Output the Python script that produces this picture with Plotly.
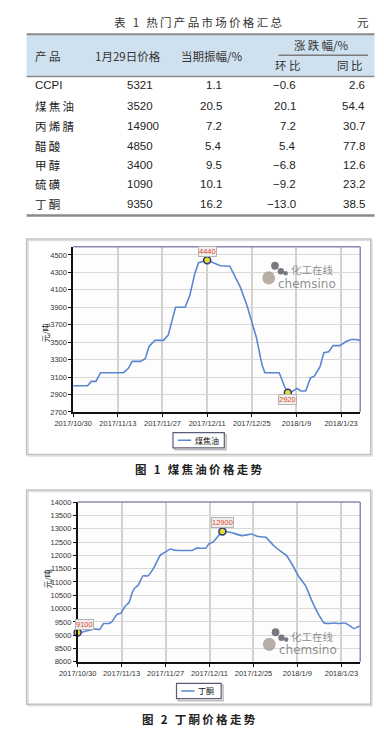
import plotly.graph_objects as go

W, H = 384, 735

# ---------------- Table data ----------------
table_title = "表 1 热门产品市场价格汇总"
table_unit = "元"
products = ["CCPI", "煤焦油", "丙烯腈", "醋酸", "甲醇", "硫磺", "丁酮"]
price_jan29 = [5321, 3520, 14900, 4850, 3400, 1090, 9350]
amplitude = [1.1, 20.5, 7.2, 5.4, 9.5, 10.1, 16.2]
change_mom = [-0.6, 20.1, 7.2, 5.4, -6.8, -9.2, -13.0]
change_yoy = [2.6, 54.4, 30.7, 77.8, 12.6, 23.2, 38.5]

# ---------------- Chart data ----------------
tick_days = [0, 14, 28, 42, 56, 70, 84]
tick_labels = ["2017/10/30", "2017/11/13", "2017/11/27", "2017/12/11",
               "2017/12/25", "2018/1/9", "2018/1/23"]

# 煤焦油 (days after 2017/10/30, 元/吨)
coal_tar_days = [0, 4.5, 5.7, 7.1, 8.6, 15.8, 17.3, 18.5, 21.1, 22.6, 23.8, 25.6,
                 28.3, 29.8, 31, 32.1, 35.1, 36.6, 38.1, 39.3, 42, 44, 46.1, 49.1,
                 50.9, 52.4, 54.5, 56, 57.4, 59.2, 60.1, 64.6, 66.4, 67.3, 68.5,
                 70.2, 71.4, 72.9, 74.4, 75.6, 77.4, 78.6, 80.1, 81.5, 83.6, 85.7,
                 87.2, 88.7, 89.9]
coal_tar_price = [3000, 3000, 3050, 3050, 3150, 3150, 3200, 3280, 3280, 3310, 3450, 3520,
                  3520, 3580, 3750, 3900, 3900, 4040, 4280, 4410, 4440, 4410, 4375, 4370,
                  4240, 4130, 3920, 3720, 3560, 3240, 3150, 3150, 2980, 2920, 2930,
                  2970, 2940, 2940, 3090, 3110, 3220, 3380, 3390, 3460, 3460, 3510,
                  3530, 3530, 3520]
coal_tar_yticks = [2700, 2900, 3100, 3300, 3500, 3700, 3900, 4100, 4300, 4500]

# 丁酮
mek_days = [0, 1.5, 5, 6, 7, 8.3, 10, 11, 12.6, 13.8, 15.1, 16.4, 17.3, 18.1, 19.4,
            20.8, 22.4, 24.2, 26.4, 27.9, 29.5, 31.2, 36.7, 37.8, 40.8, 41.8, 43.3,
            46.1, 48.8, 52.4, 55.4, 57.4, 59.9, 62.4, 65, 66.5, 68.5, 70.5, 72.5,
            74.5, 76.5, 78.5, 80.1, 81.6, 83.1, 85.1, 86.1, 88.1, 89.8]
mek_price = [9100, 9120, 9230, 9230, 9210, 9440, 9440, 9520, 9790, 9830, 10080, 10240,
             10570, 10760, 10900, 11230, 11230, 11520, 12020, 12120, 12240, 12190, 12190,
             12270, 12270, 12430, 12520, 12900, 12860, 12740, 12800, 12710, 12680, 12370,
             12120, 12000, 11620, 11190, 10880, 10320, 9830, 9460, 9440, 9460, 9440, 9460,
             9400, 9250, 9350]
mek_yticks = list(range(8000, 14001, 500))

LINE_BLUE = "#5b87d2"
FONT_LAT = "Liberation Sans, Arial, Noto Sans CJK SC"
FONT_CJK = "Noto Sans CJK SC, Liberation Sans"


def X(px):
    return px / W


def Y(py):
    return 1 - py / H


def spaced(s, sep="\u2009"):
    return sep.join(s)


shapes = []
annotations = []


def text(px, py, s, size=11.5, color="#222", anchor="center", family=FONT_CJK, **kw):
    annotations.append(dict(x=X(px), y=Y(py), xref="paper", yref="paper", text=s,
                            showarrow=False, xanchor=anchor, yanchor="middle",
                            font=dict(size=size, color=color, family=family), **kw))


def hline(x0, x1, py, color="#888", width=1.5):
    shapes.append(dict(type="line", xref="paper", yref="paper", x0=X(x0), x1=X(x1),
                       y0=Y(py), y1=Y(py), line=dict(color=color, width=width)))


def rect(x0, y0, x1, y1, line="#c4c4c4", width=1.5, fill="rgba(0,0,0,0)", layer="below"):
    shapes.append(dict(type="rect", xref="paper", yref="paper", x0=X(x0), x1=X(x1),
                       y0=Y(y1), y1=Y(y0), line=dict(color=line, width=width),
                       fillcolor=fill, layer=layer))


def circle(cx, cy, r, color):
    shapes.append(dict(type="circle", xref="paper", yref="paper", x0=X(cx - r), x1=X(cx + r),
                       y0=Y(cy + r), y1=Y(cy - r), line=dict(width=0), fillcolor=color,
                       layer="above"))


def fmt(v):
    s = f"{abs(v):.1f}"
    return ("−" + s) if v < 0 else s


# ---------------- Table ----------------
text(188, 18, spaced(table_title), size=11.5, color="#333")
text(362, 18, table_unit, size=11.5, color="#333")
rect(8, 30.5, 374, 73.5, line="rgba(0,0,0,0)", width=0, fill="#cfe1ef")
hline(8, 374, 30.5, "#8a8a8a", 2)
hline(8, 374, 73.5, "#8a8a8a", 1.5)
hline(273, 367, 52, "#7a7a7a", 1.5)
text(31, 53, "产 品", color="#333")
text(115, 53, "1月29日价格", color="#333")
text(203, 53, "当期振幅/%", color="#333")
text(318, 42, spaced("涨跌幅") + "/%", color="#333")
text(283, 62, "环 比", color="#333")
text(348, 62, "同 比", color="#333")

row_y = [82, 103.6, 123.3, 143.3, 162.7, 182.7, 202.4]
for i, name in enumerate(products):
    ry = row_y[i]
    if name.isascii():
        text(15, ry, name, anchor="left", family=FONT_LAT)
    else:
        text(15, ry, spaced(name), anchor="left", family=FONT_CJK)
    text(112, ry, str(price_jan29[i]), anchor="left", family=FONT_LAT)
    text(216, ry, fmt(amplitude[i]), anchor="right", family=FONT_LAT)
    text(294, ry, fmt(change_mom[i]), anchor="right", family=FONT_LAT)
    text(366, ry, fmt(change_yoy[i]), anchor="right", family=FONT_LAT)
hline(8, 374, 214, "#8a8a8a", 2.5)

# ---------------- Chart frames ----------------
charts = [
    dict(box=(8, 238, 370, 456), plot=(57, 245.7, 359, 413), ytitle=(28, 333),
         legend=(162, 434, 216, 449.3), legend_name="煤焦油", caption=(189.5, 471),
         caption_text="图 1 煤焦油价格走势", wm=(0, 0)),
    dict(box=(8, 492, 370, 709), plot=(61.7, 504.3, 359, 666), ytitle=(30, 582),
         legend=(165.7, 687.7, 212.7, 703.3), legend_name="丁酮", caption=(189, 724),
         caption_text="图 2 丁酮价格走势", wm=(0.6, 371)),
]

for c in charts:
    bx0, by0, bx1, by1 = c["box"]
    rect(bx0 + 1.5, by0 + 1.5, bx1 + 1.5, by1 + 1.5, line="#dedede", width=1.5)
    rect(bx0, by0, bx1, by1, line="#c2c2c2", width=1.5)
    px0, py0, px1, py1 = c["plot"]
    shapes.append(dict(type="line", xref="paper", yref="paper", x0=X(px0), x1=X(px1),
                       y0=Y(py0), y1=Y(py0), line=dict(color="#8a8aae", width=1.5), layer="above"))
    shapes.append(dict(type="line", xref="paper", yref="paper", x0=X(px1), x1=X(px1),
                       y0=Y(py0), y1=Y(py1), line=dict(color="#8a8aae", width=1.5), layer="above"))
    tx, ty = c["ytitle"]
    text(tx, ty, "元/吨", size=8, color="#222", textangle=-90)
    lx0, ly0, lx1, ly1 = c["legend"]
    rect(lx0 + 2, ly0 + 2, lx1 + 2, ly1 + 2, line="#bdbdbd", width=1.5, layer="above")
    rect(lx0, ly0, lx1, ly1, line="#5c5c78", width=1.2, fill="white", layer="above")
    ly = (ly0 + ly1) / 2
    shapes.append(dict(type="line", xref="paper", yref="paper", x0=X(lx0 + 5), x1=X(lx0 + 19),
                       y0=Y(ly), y1=Y(ly), line=dict(color=LINE_BLUE, width=1.5), layer="above"))
    text(lx0 + 21, ly, c["legend_name"], size=8, color="#111", anchor="left")
    cx, cy = c["caption"]
    text(cx, cy, "<b>" + spaced(c["caption_text"]) + "</b>", size=11.5, color="#222")
    # watermark
    dx, dy = c["wm"]
    circle(262.7 + dx, 277.3 + dy, 6.7, "rgba(170,160,150,0.85)")
    circle(269.3 + dx, 265 + dy, 4, "rgba(95,95,105,0.85)")
    circle(275.5 + dx, 270.5 + dy, 3.3, "rgba(95,95,105,0.85)")
    circle(280.5 + dx, 272.5 + dy, 2.3, "rgba(95,95,105,0.85)")
    text(308.5 + dx, 269 + dy, "化工在线", size=10.5, color="rgba(130,130,130,0.9)",
         borderpad=0)
    text(303.5 + dx, 283 + dy, "chemsino", size=12, color="rgba(130,130,130,0.9)",
         family="DejaVu Sans, Liberation Sans", borderpad=0)

# ---------------- Traces ----------------
fig = go.Figure()
fig.add_trace(go.Scatter(x=coal_tar_days, y=coal_tar_price, mode="lines",
                         line=dict(color=LINE_BLUE, width=1.6), name="煤焦油",
                         xaxis="x", yaxis="y", showlegend=False))
fig.add_trace(go.Scatter(x=mek_days, y=mek_price, mode="lines",
                         line=dict(color=LINE_BLUE, width=1.6, shape="spline", smoothing=0.4),
                         name="丁酮", xaxis="x2", yaxis="y2", showlegend=False))

i_max1 = coal_tar_price.index(max(coal_tar_price))
i_min1 = coal_tar_price.index(min(coal_tar_price))
i_max2 = mek_price.index(max(mek_price))
i_first2 = 0
marker_style = dict(size=7, color="#e6dc2a", line=dict(color="#2a3480", width=1.5))
fig.add_trace(go.Scatter(x=[coal_tar_days[i_max1], coal_tar_days[i_min1]],
                         y=[coal_tar_price[i_max1], coal_tar_price[i_min1]],
                         mode="markers", marker=marker_style, xaxis="x", yaxis="y",
                         showlegend=False, cliponaxis=False))
fig.add_trace(go.Scatter(x=[mek_days[i_max2], mek_days[i_first2]],
                         y=[mek_price[i_max2], mek_price[i_first2]],
                         mode="markers", marker=marker_style, xaxis="x2", yaxis="y2",
                         showlegend=False, cliponaxis=False))


def value_label(xr, yr, xv, yv, yshift, xshift=0):
    annotations.append(dict(x=xv, y=yv, xref=xr, yref=yr, text=str(yv), showarrow=False,
                            yshift=yshift, xshift=xshift,
                            font=dict(size=7.5, color="#e4472c", family=FONT_LAT),
                            bgcolor="#eeeeee", bordercolor="#b4b4b4", borderwidth=1,
                            borderpad=0))


value_label("x", "y", coal_tar_days[i_max1], coal_tar_price[i_max1], 8.5)
value_label("x", "y", coal_tar_days[i_min1], coal_tar_price[i_min1], -6.5)
value_label("x2", "y2", mek_days[i_max2], mek_price[i_max2], 9)
value_label("x2", "y2", mek_days[i_first2], mek_price[i_first2], 8.5, 7)

axis_common = dict(showline=True, linecolor="#111", linewidth=1.5, ticks="outside",
                   ticklen=3, tickcolor="#111", tickwidth=1,
                   tickfont=dict(size=7.5, color="#333", family=FONT_LAT),
                   zeroline=False, showgrid=True, fixedrange=True)

p1 = charts[0]["plot"]
p2 = charts[1]["plot"]
fig.update_layout(
    width=W, height=H, autosize=False,
    margin=dict(l=0, r=0, t=0, b=0),
    paper_bgcolor="white", plot_bgcolor="#fdfdfd",
    xaxis=dict(domain=[X(p1[0]), X(p1[2])], range=[0, 90], tickvals=tick_days,
               ticktext=tick_labels, anchor="y", gridcolor="#d2d2d2", gridwidth=1.5,
               **axis_common),
    yaxis=dict(domain=[Y(p1[3]), Y(p1[1])], range=[2700, 4594], tickvals=coal_tar_yticks,
               tickformat="d", anchor="x", gridcolor="#d8d8d8", gridwidth=1.2, **axis_common),
    xaxis2=dict(domain=[X(p2[0]), X(p2[2])], range=[0, 90], tickvals=tick_days,
                ticktext=tick_labels, anchor="y2", gridcolor="#d2d2d2", gridwidth=1.5,
                **axis_common),
    yaxis2=dict(domain=[Y(p2[3]), Y(p2[1])], range=[8000, 14000], tickvals=mek_yticks,
                tickformat="d", anchor="x2", gridcolor="#d8d8d8", gridwidth=1.2,
                **axis_common),
    shapes=shapes,
    annotations=annotations,
    showlegend=False,
)

fig.write_html("out.html")
